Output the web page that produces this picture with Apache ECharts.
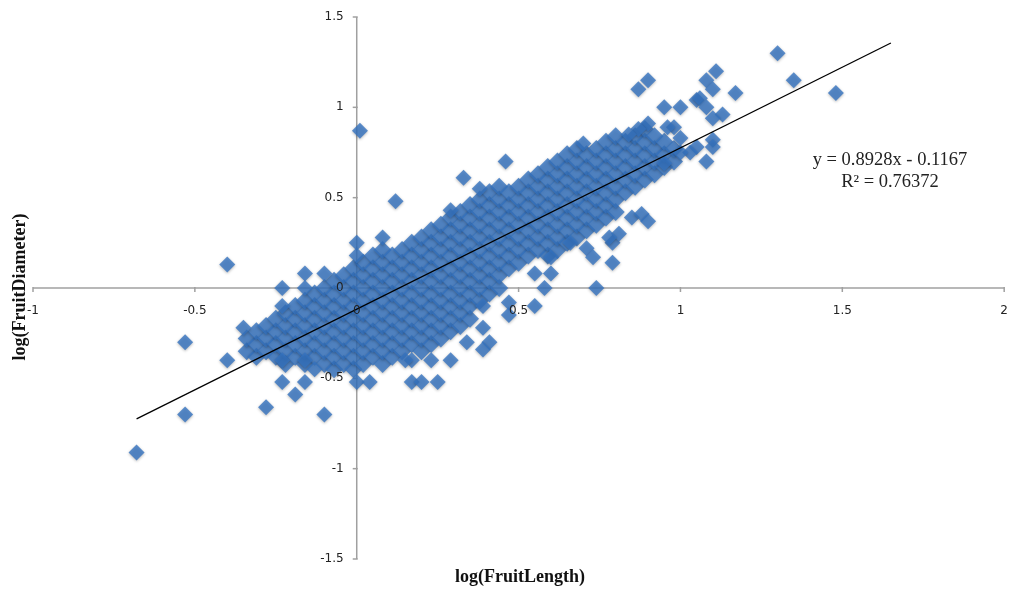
<!DOCTYPE html>
<html>
<head>
<meta charset="utf-8">
<script src="https://cdn.jsdelivr.net/npm/echarts@6/dist/echarts.min.js"></script>
<style>html,body{margin:0;padding:0;background:#fff}#c{width:1011px;height:590px}</style>
</head>
<body>
<div id="c"></div>
<script>
// x positions of the dense cloud columns (log FruitLength)
const bandX = [-0.34,-0.31,-0.28,-0.25,-0.22,-0.19,-0.16,-0.13,-0.10,-0.07,-0.04,-0.01,0.02,0.05,0.08,0.11,0.14,0.17,0.20,0.23,0.26,0.29,0.32,0.35,0.38,0.41,0.44,0.47,0.50,0.53,0.56,0.59,0.62,0.65,0.68,0.71,0.74,0.77,0.80,0.83,0.86,0.89,0.92,0.95,0.98];
// y values (log FruitDiameter) of the points in each column
const bandY = [
 [-0.35,-0.28],
 [-0.38,-0.31,-0.24],
 [-0.35,-0.28,-0.21],
 [-0.38,-0.31,-0.24,-0.17],
 [-0.42,-0.35,-0.28,-0.21,-0.14],
 [-0.38,-0.31,-0.24,-0.17,-0.1],
 [-0.42,-0.35,-0.28,-0.21,-0.14,-0.07],
 [-0.38,-0.31,-0.24,-0.17,-0.1,-0.03],
 [-0.42,-0.35,-0.28,-0.21,-0.14,-0.07,0],
 [-0.45,-0.38,-0.31,-0.24,-0.17,-0.1,-0.03,0.04],
 [-0.42,-0.35,-0.28,-0.21,-0.14,-0.07,0,0.07],
 [-0.45,-0.38,-0.31,-0.24,-0.17,-0.1,-0.03,0.04,0.11],
 [-0.42,-0.35,-0.28,-0.21,-0.14,-0.07,0,0.07,0.14],
 [-0.38,-0.31,-0.24,-0.17,-0.1,-0.03,0.04,0.11,0.18],
 [-0.42,-0.35,-0.28,-0.21,-0.14,-0.07,0,0.07,0.14,0.21],
 [-0.38,-0.31,-0.24,-0.17,-0.1,-0.03,0.04,0.11,0.18],
 [-0.35,-0.28,-0.21,-0.14,-0.07,0,0.07,0.14,0.21],
 [-0.31,-0.24,-0.17,-0.1,-0.03,0.04,0.11,0.18,0.25],
 [-0.35,-0.28,-0.21,-0.14,-0.07,0,0.07,0.14,0.21,0.28],
 [-0.31,-0.24,-0.17,-0.1,-0.03,0.04,0.11,0.18,0.25,0.32],
 [-0.28,-0.21,-0.14,-0.07,0,0.07,0.14,0.21,0.28,0.35],
 [-0.24,-0.17,-0.1,-0.03,0.04,0.11,0.18,0.25,0.32,0.39],
 [-0.21,-0.14,-0.07,0,0.07,0.14,0.21,0.28,0.35,0.42],
 [-0.17,-0.1,-0.03,0.04,0.11,0.18,0.25,0.32,0.39,0.46],
 [-0.07,0,0.07,0.14,0.21,0.28,0.35,0.42,0.49],
 [-0.03,0.04,0.11,0.18,0.25,0.32,0.39,0.46,0.53],
 [0,0.07,0.14,0.21,0.28,0.35,0.42,0.49,0.56],
 [0.11,0.18,0.25,0.32,0.39,0.46,0.53],
 [0.14,0.21,0.28,0.35,0.42,0.49,0.56],
 [0.18,0.25,0.32,0.39,0.46,0.53,0.6],
 [0.21,0.28,0.35,0.42,0.49,0.56,0.63],
 [0.18,0.25,0.32,0.39,0.46,0.53,0.6,0.67],
 [0.21,0.28,0.35,0.42,0.49,0.56,0.63,0.7],
 [0.25,0.32,0.39,0.46,0.53,0.6,0.67,0.74],
 [0.28,0.35,0.42,0.49,0.56,0.63,0.7,0.77],
 [0.32,0.39,0.46,0.53,0.6,0.67,0.74],
 [0.35,0.42,0.49,0.56,0.63,0.7,0.77],
 [0.39,0.46,0.53,0.6,0.67,0.74,0.81],
 [0.42,0.49,0.56,0.63,0.7,0.77,0.84],
 [0.53,0.6,0.67,0.74,0.81],
 [0.56,0.63,0.7,0.77,0.84],
 [0.6,0.67,0.74,0.81,0.88],
 [0.63,0.7,0.77,0.84],
 [0.67,0.74,0.81],
 [0.7,0.77]
];
// scattered points outside the dense cloud [log FruitLength, log FruitDiameter]
const outliers = [
 [-0.68,-0.91],[-0.53,-0.7],[-0.53,-0.3],[-0.4,-0.4],[-0.4,0.13],[-0.35,-0.22],
 [-0.28,-0.66],[-0.19,-0.59],[-0.23,-0.52],[-0.16,-0.52],[-0.1,-0.7],[0,-0.52],[0.04,-0.52],
 [-0.23,0.0],[-0.23,-0.1],[-0.16,0.08],[-0.1,0.08],[-0.16,0.0],[-0.23,-0.4],[-0.16,-0.4],[-0.13,-0.45],
 [0.01,0.87],[0,0.25],[0,0.18],[0.08,0.28],[0.12,0.48],[0.29,0.43],[0.33,0.61],[0.38,0.55],[0.46,0.7],
 [0.39,-0.1],[0.39,-0.22],[0.41,-0.3],[0.39,-0.34],[0.34,-0.3],[0.29,-0.4],[0.23,-0.4],[0.17,-0.4],[0.15,-0.4],
 [0.17,-0.52],[0.2,-0.52],[0.25,-0.52],[0.58,0.0],[0.74,0.0],[0.47,-0.08],[0.47,-0.15],[0.55,-0.1],
 [0.6,0.08],[0.55,0.08],[0.6,0.17],[0.66,0.25],[0.71,0.22],[0.73,0.17],[0.79,0.14],[0.79,0.25],[0.81,0.3],
 [0.85,0.39],[0.88,0.41],[0.9,0.37],[0.78,0.28],
 [0.87,1.1],[0.9,1.15],[0.95,1.0],[1.0,1.0],[1.05,1.04],[0.7,0.8],[0.98,0.89],[0.96,0.89],
 [1.3,1.3],[1.35,1.15],[1.48,1.08],[1.11,1.2],[1.08,1.15],[1.1,1.1],[1.17,1.08],[1.06,1.05],[1.08,1.0],
 [1.13,0.96],[1.1,0.94],[0.9,0.91],[0.87,0.88],[0.84,0.85],[1.1,0.82],[1.1,0.78],[1.05,0.78],
 [1.03,0.75],[1.0,0.75],[1.08,0.7],[0.95,0.69],[1.0,0.83]
];
// linear trendline end points (y = 0.8928x - 0.1167)
const trendLine = [[-0.68,-0.724],[1.65,1.356]];
// axis tick values
const xTicks = [-1,-0.5,0,0.5,1,1.5,2];
const yTicks = [-1.5,-1,-0.5,0,0.5,1,1.5];
const equationText = 'y = 0.8928x - 0.1167';
const r2Text = 'R² = 0.76372';
const xTitle = 'log(FruitLength)';
const yTitle = 'log(FruitDiameter)';

const bandPoints = [];
bandX.forEach((x, i) => bandY[i].forEach(y => bandPoints.push([x, y])));

const W = 1011, H = 590;
const G = {left: 33, right: 4, top: 17, bottom: 31};
const X_MIN = -1, X_MAX = 2, Y_MIN = -1.5, Y_MAX = 1.5;
// axes cross at the origin: shift the tick labels from the grid edges to zero
const plotW = W - G.left - G.right, plotH = H - G.top - G.bottom;
const xAxisShift = -plotH * (0 - Y_MIN) / (Y_MAX - Y_MIN);
const yAxisShift = -plotW * (0 - X_MIN) / (X_MAX - X_MIN);
const AXIS_GREY = '#a0a0a0';

function axis(extra, margin) {
  return Object.assign({
    type: 'value', interval: 0.5, z: 10,
    axisLine: {show: false, onZero: false},
    axisTick: {show: false},
    splitLine: {show: false},
    axisLabel: {show: true, color: '#222', fontFamily: 'DejaVu Sans', fontSize: 12, margin: margin}
  }, extra);
}

// axis lines and tick marks crossing at the origin, placed through the chart's scales
function renderAxes(params, api) {
  const ln = (a, b) => ({type: 'line', shape: {x1: a[0], y1: a[1], x2: b[0], y2: b[1]},
    style: {stroke: AXIS_GREY, lineWidth: 1.5}});
  const kids = [ln(api.coord([X_MIN, 0]), api.coord([X_MAX, 0])), ln(api.coord([0, Y_MIN]), api.coord([0, Y_MAX]))];
  xTicks.forEach(v => { const p = api.coord([v, 0]); kids.push(ln([p[0], p[1] - 1], [p[0], p[1] + 4])); });
  yTicks.forEach(v => { const p = api.coord([0, v]); kids.push(ln([p[0] + 1, p[1]], [p[0] - 4, p[1]])); });
  return {type: 'group', children: kids};
}

const chart = echarts.init(document.getElementById('c'), null, {renderer: 'canvas'});
chart.setOption({
  animation: false,
  backgroundColor: '#fff',
  grid: {left: G.left, right: G.right, top: G.top, bottom: G.bottom, containLabel: false},
  xAxis: axis({min: X_MIN, max: X_MAX, position: 'bottom', offset: xAxisShift}, 17),
  yAxis: axis({min: Y_MIN, max: Y_MAX, position: 'left', offset: yAxisShift}, 14),
  series: [
    {
      type: 'custom', data: [[0, 0]], renderItem: renderAxes, silent: true, clip: false, z: 1
    },
    {
      type: 'scatter', data: bandPoints, symbol: 'diamond', symbolSize: 18,
      itemStyle: {color: '#3573c0', shadowBlur: 3, shadowColor: 'rgba(0,0,0,0.35)', shadowOffsetY: 1},
      z: 2
    },
    {
      type: 'scatter', data: outliers, symbol: 'diamond', symbolSize: 16,
      itemStyle: {color: '#3573c0', shadowBlur: 3, shadowColor: 'rgba(0,0,0,0.35)', shadowOffsetY: 1},
      z: 2
    },
    {
      type: 'line', data: trendLine, symbol: 'none',
      lineStyle: {color: '#000', width: 1.3}, z: 3
    }
  ],
  graphic: [
    {type: 'text', x: 520, y: 577, style: {text: xTitle, align: 'center', verticalAlign: 'middle', font: 'bold 18px "Liberation Serif"', fill: '#111'}},
    {type: 'text', x: 20, y: 287, rotation: Math.PI / 2, style: {text: yTitle, align: 'center', verticalAlign: 'middle', font: 'bold 18px "Liberation Serif"', fill: '#111'}},
    {type: 'text', x: 890, y: 160, style: {text: equationText, align: 'center', verticalAlign: 'middle', font: '18.5px "Liberation Serif"', fill: '#222'}},
    {type: 'text', x: 890, y: 182, style: {text: r2Text, align: 'center', verticalAlign: 'middle', font: '18.5px "Liberation Serif"', fill: '#222'}}
  ]
});
</script>
</body>
</html>
